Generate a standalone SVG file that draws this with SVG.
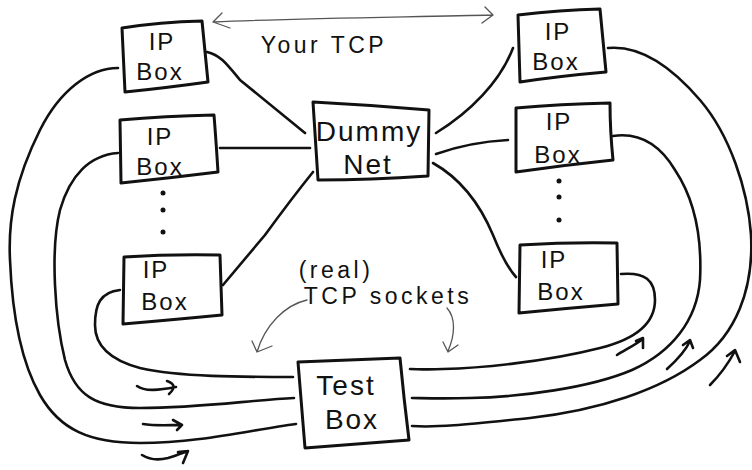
<svg xmlns="http://www.w3.org/2000/svg" width="752" height="470" viewBox="0 0 752 470">
<style>
.box{fill:#fff;stroke:#111;stroke-width:3;stroke-linejoin:round}
.ln{fill:none;stroke:#111;stroke-width:2.6;stroke-linecap:round;stroke-linejoin:round}
.thin{fill:none;stroke:#555;stroke-width:1.3;stroke-linecap:round;stroke-linejoin:round}
.t{font-family:"Liberation Sans",Arial,sans-serif;fill:#111;text-anchor:middle}
.ip{font-size:24px;letter-spacing:2px}
.big{font-size:28px;letter-spacing:2px}
.lab{font-size:23px;letter-spacing:3.5px}
.dot{fill:#111}
</style>
<rect width="752" height="470" fill="#fff"/>
<g id="connectors">
  <!-- IP boxes to Dummy Net -->
  <path class="ln" d="M207,52 C220,55 226,63 240,80 L305,133"/>
  <path class="ln" d="M220,148 L310,148"/>
  <path class="ln" d="M223,285 L265,235 Q292,198 313,172"/>
  <path class="ln" d="M436,133 C470,112 500,82 513,48"/>
  <path class="ln" d="M436,154 Q470,142 508,140"/>
  <path class="ln" d="M433,163 Q472,185 493,235 Q505,265 516,277"/>
  <!-- left loops to Test Box -->
  <path class="ln" d="M118,68 C90,68 60,90 40,130 C15,180 8,220 10,260 C12,310 20,360 40,395 C60,430 90,443 140,443 C200,443 250,430 296,424"/>
  <path class="ln" d="M118,153 C90,155 70,175 60,210 C50,250 55,320 65,360 C75,395 95,408 140,408 C200,408 250,400 294,398"/>
  <path class="ln" d="M120,290 C100,292 95,305 95,325 C95,345 110,360 140,368 C180,377 240,377 293,377"/>
  <!-- right loops to Test Box -->
  <path class="ln" d="M621,274 C645,272 655,280 655,300 C655,325 632,340 600,348 C545,362 480,368 443,369 C425,370 418,369 410,369"/>
  <path class="ln" d="M613,136 C640,132 660,145 675,170 C695,200 702,240 700,280 C697,320 672,352 632,370 C590,388 520,397 470,398 C440,399 420,398 412,398"/>
  <path class="ln" d="M608,48 C640,45 670,65 700,100 C730,135 748,190 751,235 C754,290 735,335 700,360 C660,390 600,410 530,418 C480,423 440,428 412,426"/>
  <!-- flow arrows left -->
  <path class="ln" d="M137,386 C145,392 160,390 176,387 M167,381 Q179,385 169,394"/>
  <path class="ln" d="M143,424 C155,426 168,425 182,425 M173,420 L182,425 L177,430"/>
  <path class="ln" d="M142,455 C150,460 160,460 168,458 C175,456 180,454 188,451 M178,452 L188,451 L183,463"/>
  <!-- flow arrows right -->
  <path class="ln" d="M617,355 C625,350 635,345 643,339 M636,341 L643,338 L643,348"/>
  <path class="ln" d="M667,369 C677,360 685,352 690,341 M683,345 L690,340 L693,348"/>
  <path class="ln" d="M710,385 C720,375 728,364 735,351 M727,356 L735,350 L740,362"/>
  <!-- Your TCP double arrow -->
  <path class="thin" d="M213,22 C300,18 420,17 493,15 M222,13 L213,22 L230,28 M485,7 L493,15 L482,23"/>
  <!-- socket pointers -->
  <path class="thin" d="M307,300 C285,305 265,325 257,352 M252,341 L257,352 L272,346"/>
  <path class="thin" d="M447,308 C456,318 455,335 448,351 M443,342 L448,352 L458,345"/>
</g>
<g id="ip-left-1">
  <path class="box" d="M122,28 Q160,22 202,21 L208,82 Q165,88 125,92 Z"/>
  <text class="t ip" x="162" y="50">IP</text>
  <text class="t ip" x="160" y="80">Box</text>
</g>
<g id="ip-left-2">
  <path class="box" d="M120,120 Q165,116 214,115 Q216,140 218,172 Q170,178 121,183 Z"/>
  <text class="t ip" x="160" y="145">IP</text>
  <text class="t ip" x="160" y="175">Box</text>
</g>
<g id="ip-left-dots">
  <circle class="dot" cx="163" cy="193" r="2.5"/>
  <circle class="dot" cx="163" cy="210" r="2.5"/>
  <circle class="dot" cx="163" cy="232" r="2.5"/>
</g>
<g id="ip-left-3">
  <path class="box" d="M124,257 Q170,254 220,255 L222,315 Q170,320 123,324 Z"/>
  <text class="t ip" x="156" y="278">IP</text>
  <text class="t ip" x="165" y="310">Box</text>
</g>
<g id="dummy-net">
  <path class="box" d="M313,102 Q370,105 429,110 L428,176 Q370,180 318,180 Z"/>
  <text class="t big" x="369" y="141">Dummy</text>
  <text class="t big" x="368" y="174">Net</text>
</g>
<g id="ip-right-1">
  <path class="box" d="M518,15 Q560,10 600,9 L606,72 Q560,76 520,82 Z"/>
  <text class="t ip" x="558" y="40">IP</text>
  <text class="t ip" x="556" y="70">Box</text>
</g>
<g id="ip-right-2">
  <path class="box" d="M516,108 Q560,104 610,103 Q610,130 613,160 Q565,165 516,172 Z"/>
  <text class="t ip" x="559" y="130">IP</text>
  <text class="t ip" x="558" y="163">Box</text>
</g>
<g id="ip-right-dots">
  <circle class="dot" cx="559" cy="181" r="2.5"/>
  <circle class="dot" cx="559" cy="197" r="2.5"/>
  <circle class="dot" cx="559" cy="220" r="2.5"/>
</g>
<g id="ip-right-3">
  <path class="box" d="M520,245 Q570,242 617,243 L618,304 Q570,308 519,313 Z"/>
  <text class="t ip" x="554" y="268">IP</text>
  <text class="t ip" x="561" y="300">Box</text>
</g>
<g id="test-box">
  <path class="box" d="M298,362 Q350,360 400,358 Q404,400 409,440 Q355,444 305,448 Z"/>
  <text class="t big" x="346" y="395">Test</text>
  <text class="t big" x="352" y="429">Box</text>
</g>
<g id="labels">
  <text class="t lab" x="324" y="53">Your TCP</text>
  <text class="t lab" x="336" y="278">(real)</text>
  <text class="t lab" x="388" y="304">TCP sockets</text>
</g>
</svg>
